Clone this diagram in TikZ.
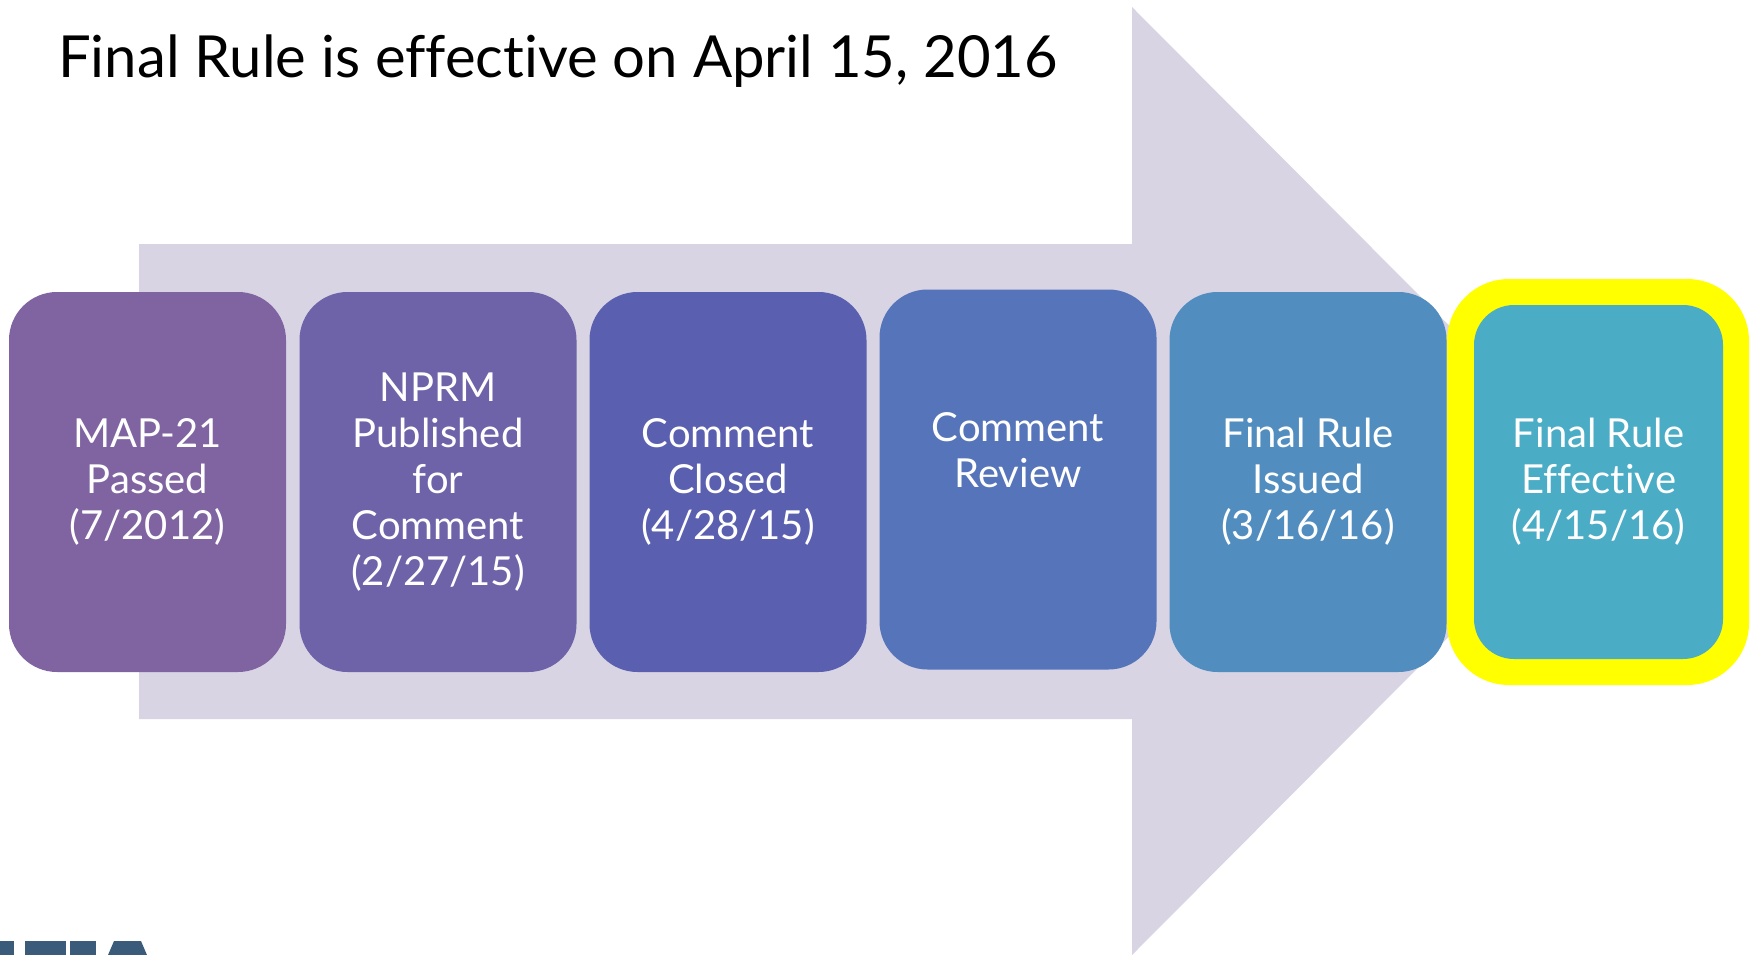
\documentclass[tikz,border=0pt]{standalone}
\usepackage{fontspec}
\setmainfont[Ligatures=NoCommon]{Lato}
\definecolor{arrowbg}{HTML}{D8D4E4}
\definecolor{cA}{HTML}{8064A1}
\definecolor{cB}{HTML}{6E62A8}
\definecolor{cC}{HTML}{5A5FAF}
\definecolor{cD}{HTML}{5574B9}
\definecolor{cE}{HTML}{528DC0}
\definecolor{cF}{HTML}{4BACC6}
\definecolor{hlyellow}{HTML}{FFFF00}
\definecolor{logoblue}{HTML}{3B5B7A}
\tikzset{
  stepbox/.style={rectangle, rounded corners=48pt, minimum width=277pt, minimum height=380pt,
    inner sep=0pt, text=white, align=center, font=\fontsize{40}{46}\selectfont},
}
\begin{document}
\begin{tikzpicture}[x=1pt,y=-1pt]
\fill[white] (0,0) rectangle (1756,955);
\useasboundingbox (0,0) rectangle (1756,955);
% big background arrow
\fill[arrowbg] (139,244) -- (1132,244) -- (1132,7) -- (1604,481) -- (1132,955) -- (1132,719) -- (139,719) -- cycle;
% title
\node[anchor=base west, inner sep=0pt, font=\fontsize{58}{66}\selectfont] (title) at (58,78) {Final Rule is effective on April 15, 2016};
% steps
\node[stepbox, fill=cA] (s1) at (147.5,482) {MAP-21\\Passed\\(7/2012)};
\node[stepbox, fill=cB] (s2) at (438,482) {NPRM\\Published\\for\\Comment\\(2/27/15)};
\node[stepbox, fill=cC] (s3) at (728,482) {Comment\\Closed\\(4/28/15)};
\node[stepbox, fill=cD] (s4) at (1018,479.5) {Comment\\Review\\\strut};
\node[stepbox, fill=cE] (s5) at (1308,482) {Final Rule\\Issued\\(3/16/16)};
\node[rectangle, rounded corners=62pt, fill=hlyellow, minimum width=302pt, minimum height=406pt, inner sep=0pt] (hl) at (1598,482) {};
\node[stepbox, fill=cF, rounded corners=40pt, minimum width=249pt, minimum height=354pt] (s6) at (1598.5,482) {Final Rule\\Effective\\(4/15/16)};
% logo fragment
\fill[logoblue] (0,941) rectangle (14,955);
\fill[logoblue] (25,941) rectangle (66,955);
\fill[logoblue] (70,941) rectangle (96,955);
\fill[logoblue] (108,955) -- (114,941) -- (141,941) -- (147,955) -- cycle;
\end{tikzpicture}
\end{document}
